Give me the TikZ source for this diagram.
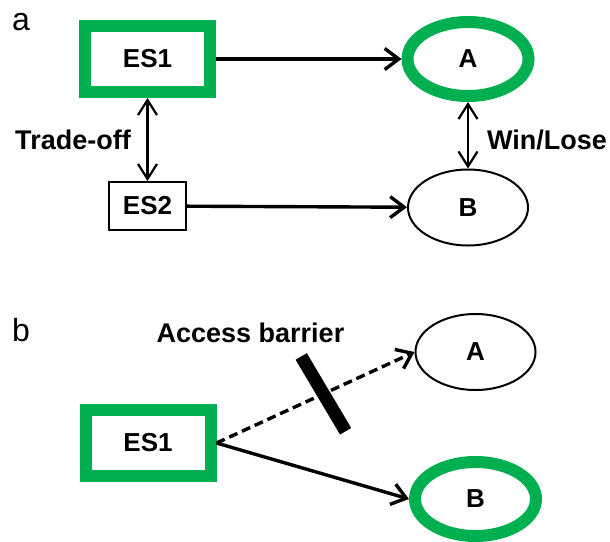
\documentclass[tikz,border=0pt]{standalone}
\usepackage{fontspec}
\setmainfont{Liberation Sans}
\usetikzlibrary{shapes.geometric, arrows.meta}
\definecolor{esgreen}{RGB}{0,176,80}
\tikzstyle{greenbox} = [rectangle, 
minimum width=125pt, 
minimum height=66pt, 
inner sep=0pt,
draw=esgreen, 
line width=12pt,
font=\fontsize{26}{30}\selectfont\bfseries]
\tikzstyle{plainbox} = [rectangle, 
minimum width=77pt, 
minimum height=48pt, 
inner sep=0pt,
draw=black, 
line width=2pt,
font=\fontsize{26}{30}\selectfont\bfseries]
\tikzstyle{greenoval} = [ellipse, 
minimum width=121pt, 
minimum height=74pt, 
inner sep=0pt,
draw=esgreen, 
line width=12pt,
font=\fontsize{26}{30}\selectfont\bfseries]
\tikzstyle{plainoval} = [ellipse, 
minimum width=120pt, 
minimum height=76pt, 
inner sep=0pt,
draw=black, 
line width=2pt,
font=\fontsize{26}{30}\selectfont\bfseries]
\tikzstyle{txt} = [font=\fontsize{27}{32}\selectfont\bfseries]
\tikzstyle{panel} = [font=\fontsize{32}{38}\selectfont]
\tikzstyle{arrow} = [line width=3.4pt,-{Straight Barb[length=14pt,width=21pt]}]
\tikzstyle{twoway} = [line width=2.2pt,{Straight Barb[length=15pt,width=19pt]}-{Straight Barb[length=15pt,width=19pt]}]
\tikzstyle{barrierbar} = [rectangle, fill=black, minimum width=87pt, minimum height=13pt, inner sep=0pt]
\begin{document}
\begin{tikzpicture}[x=1pt, y=-1pt]
        \useasboundingbox (0,0) rectangle (610,541);
        % panel a
        \node (pa) [panel] at (21,22) {a};
        \node (es1) [greenbox] at (147.5,59) {ES1};
        \node (ta) [greenoval] at (468,59) {A};
        \node (es2) [plainbox] at (147.5,206) {ES2};
        \node (tb) [plainoval] at (468,207.5) {B};
        \node (tradeoff) [txt] at (73,140) {Trade-off};
        \node (winlose) [txt] at (547,140) {Win/Lose};
        \draw [arrow] (es1) -- (ta);
        \draw [arrow] (es2) -- (tb);
        \draw [twoway] (es1) -- (es2);
        \draw [twoway] (ta) -- (tb);
        % panel b
        \node (pb) [panel] at (21,330) {b};
        \node (es1b) [greenbox] at (148,443) {ES1};
        \node (ab) [plainoval] at (475.5,352) {A};
        \node (bb) [greenoval] at (475.5,499) {B};
        \node (access) [txt] at (250.5,333) {Access barrier};
        \draw [arrow, dash pattern=on 9pt off 5pt] (es1b.east) -- (ab.west)
            node (bar) [barrierbar, pos=.54, sloped, rotate=-84] {};
        \draw [arrow] (es1b.east) -- (bb.west);
    \end{tikzpicture}
\end{document}
